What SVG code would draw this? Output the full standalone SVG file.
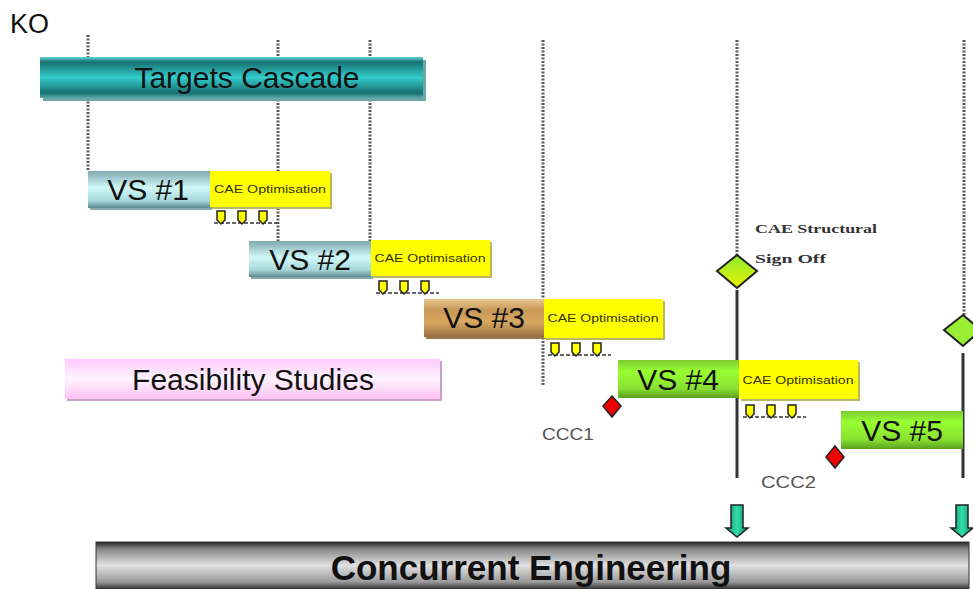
<svg xmlns="http://www.w3.org/2000/svg" width="973" height="589" viewBox="0 0 973 589">
<defs>
<linearGradient id="gTeal" x1="0" y1="0" x2="0" y2="1">
<stop offset="0" stop-color="#5fd8d8"/><stop offset="0.12" stop-color="#187070"/><stop offset="0.5" stop-color="#33cccc"/><stop offset="0.88" stop-color="#187070"/><stop offset="1" stop-color="#5aa8a8"/>
</linearGradient>
<linearGradient id="gCyan" x1="0" y1="0" x2="0" y2="1">
<stop offset="0" stop-color="#7fa8b0"/><stop offset="0.45" stop-color="#d0f8f8"/><stop offset="0.8" stop-color="#a8d8dc"/><stop offset="1" stop-color="#5f8a90"/>
</linearGradient>
<linearGradient id="gTan" x1="0" y1="0" x2="0" y2="1">
<stop offset="0" stop-color="#e8c890"/><stop offset="0.3" stop-color="#c89858"/><stop offset="0.6" stop-color="#d8a860"/><stop offset="1" stop-color="#9a7040"/>
</linearGradient>
<linearGradient id="gGreen" x1="0" y1="0" x2="0" y2="1">
<stop offset="0" stop-color="#7acc33"/><stop offset="0.3" stop-color="#99ff33"/><stop offset="0.75" stop-color="#88e030"/><stop offset="1" stop-color="#5aa022"/>
</linearGradient>
<linearGradient id="gPink" x1="0" y1="0" x2="0" y2="1">
<stop offset="0" stop-color="#ffc8ff"/><stop offset="0.5" stop-color="#fff4ff"/><stop offset="1" stop-color="#ffc0f4"/>
</linearGradient>
<linearGradient id="gGray" x1="0" y1="0" x2="0" y2="1">
<stop offset="0" stop-color="#222"/><stop offset="0.15" stop-color="#888"/><stop offset="0.5" stop-color="#e0e0e0"/><stop offset="0.85" stop-color="#999"/><stop offset="1" stop-color="#333"/>
</linearGradient>
<linearGradient id="gDia" x1="0" y1="0" x2="0" y2="1">
<stop offset="0" stop-color="#88ee33"/><stop offset="1" stop-color="#eeee00"/>
</linearGradient>
<linearGradient id="gDown" x1="0" y1="0" x2="1" y2="0">
<stop offset="0" stop-color="#0a8a6a"/><stop offset="0.5" stop-color="#33ddaa"/><stop offset="1" stop-color="#0a8a6a"/>
</linearGradient>
<g id="smallArrow">
<path d="M-4,0 H4 V9 L0,13 L-4,9 Z" fill="#ffff00" stroke="#222" stroke-width="1.5"/>
</g>
<g id="arrowRow">
<line x1="-7" y1="12" x2="56" y2="12" stroke="#333" stroke-width="1.5" stroke-dasharray="4,2"/>
<use href="#smallArrow" x="0" y="0"/>
<use href="#smallArrow" x="21" y="0"/>
<use href="#smallArrow" x="42" y="0"/>
</g>
</defs>
<style>
.dash{stroke:#5a5a5a;stroke-width:3;stroke-dasharray:2,1.5;fill:none}
.solid{stroke:#333;stroke-width:3;fill:none}
.big{font-family:"Liberation Sans",Arial,sans-serif;font-size:30px;fill:#111;text-anchor:middle}
.cae{font-family:"Liberation Sans",Arial,sans-serif;font-size:11px;fill:#333300;text-anchor:middle}
.lbl{font-family:"Liberation Sans",Arial,sans-serif;font-size:17px;fill:#555}
.serif{font-family:"Liberation Serif","Times New Roman",serif;font-size:13px;font-weight:bold;fill:#333}
.yel{fill:#ffff00}
.sh{fill:#b8b860}
</style>
<rect width="973" height="589" fill="#ffffff"/>

<g id="connectors">
<line class="dash" x1="88" y1="35" x2="88" y2="170"/>
<line class="dash" x1="278" y1="40" x2="278" y2="242"/>
<line class="dash" x1="370" y1="40" x2="370" y2="242"/>
<line class="dash" x1="543" y1="40" x2="543" y2="385"/>
<line class="dash" x1="737" y1="40" x2="737" y2="258"/>
<line class="dash" x1="964" y1="40" x2="964" y2="320"/>
<line class="solid" x1="737" y1="290" x2="737" y2="478"/>
<line class="solid" x1="963" y1="353" x2="963" y2="478"/>
</g>

<text x="10" y="33" font-family="'Liberation Sans',Arial,sans-serif" font-size="27px" fill="#111">KO</text>

<g id="targets">
<rect x="43" y="60" width="383" height="41" fill="#6aa8a8"/>
<rect x="40" y="57" width="383" height="41" fill="url(#gTeal)"/>
<text class="big" x="247" y="88">Targets Cascade</text>
</g>

<g id="vs1">
<rect x="90" y="173" width="122" height="37" fill="#8aa"/>
<rect x="88" y="171" width="122" height="37" fill="url(#gCyan)"/>
<text class="big" x="148" y="200">VS #1</text>
<rect class="sh" x="212" y="173" width="120" height="36"/>
<rect class="yel" x="210" y="171" width="120" height="36"/>
<text class="cae" x="270" y="193" textLength="112" lengthAdjust="spacingAndGlyphs">CAE Optimisation</text>
<use href="#arrowRow" x="221" y="211"/>
</g>

<g id="vs2">
<rect x="251" y="243" width="122" height="36" fill="#8aa"/>
<rect x="249" y="241" width="122" height="36" fill="url(#gCyan)"/>
<text class="big" x="310" y="270">VS #2</text>
<rect class="sh" x="373" y="242" width="119" height="36"/>
<rect class="yel" x="371" y="240" width="119" height="36"/>
<text class="cae" x="430" y="262" textLength="111" lengthAdjust="spacingAndGlyphs">CAE Optimisation</text>
<use href="#arrowRow" x="383" y="281"/>
</g>

<g id="vs3">
<rect x="426" y="301" width="120" height="38" fill="#9a7a4a"/>
<rect x="424" y="299" width="120" height="38" fill="url(#gTan)"/>
<text class="big" x="484" y="328">VS #3</text>
<rect class="sh" x="546" y="301" width="119" height="39"/>
<rect class="yel" x="544" y="299" width="119" height="39"/>
<text class="cae" x="603" y="322" textLength="111" lengthAdjust="spacingAndGlyphs">CAE Optimisation</text>
<use href="#arrowRow" x="555" y="343"/>
</g>

<g id="feasibility">
<rect x="67" y="361" width="375" height="40" fill="#c8a0c0"/>
<rect x="65" y="359" width="375" height="40" fill="url(#gPink)"/>
<text class="big" x="253" y="390">Feasibility Studies</text>
</g>

<g id="vs4">
<rect x="618" y="360" width="121" height="38" fill="url(#gGreen)"/>
<text class="big" x="678" y="390">VS #4</text>
<rect class="sh" x="741" y="362" width="119" height="39"/>
<rect class="yel" x="739" y="360" width="119" height="39"/>
<text class="cae" x="798" y="384" textLength="111" lengthAdjust="spacingAndGlyphs">CAE Optimisation</text>
<use href="#arrowRow" x="750" y="405"/>
</g>

<g id="vs5">
<rect x="841" y="411" width="122" height="38" fill="url(#gGreen)"/>
<text class="big" x="902" y="441">VS #5</text>
</g>

<g id="ccc1">
<path d="M612,396 L621,406 L612,417 L603,406 Z" fill="#ee0000" stroke="#222" stroke-width="1.5"/>
<text class="lbl" x="542" y="440" textLength="52" lengthAdjust="spacingAndGlyphs">CCC1</text>
</g>

<g id="ccc2">
<path d="M835,446 L844,457 L835,468 L826,457 Z" fill="#ee0000" stroke="#222" stroke-width="1.5"/>
<text class="lbl" x="761" y="488" textLength="55" lengthAdjust="spacingAndGlyphs">CCC2</text>
</g>

<g id="signoff">
<path d="M737,255 L757,271 L737,288 L717,271 Z" fill="url(#gDia)" stroke="#222" stroke-width="2"/>
<text class="serif" x="755" y="233" textLength="122" lengthAdjust="spacingAndGlyphs">CAE Structural</text>
<text class="serif" x="755" y="263" textLength="71" lengthAdjust="spacingAndGlyphs">Sign Off</text>
</g>

<g id="milestone5">
<path d="M963,315 L981,330 L963,346 L944,330 Z" fill="#99ee33" stroke="#222" stroke-width="2"/>
</g>

<g id="down1">
<path d="M731,505 H743 V528 H748 L737,537 L726,528 H731 Z" fill="url(#gDown)" stroke="#222" stroke-width="1.5"/>
</g>
<g id="down2">
<path d="M956,505 H968 V528 H973 L962,537 L951,528 H956 Z" fill="url(#gDown)" stroke="#222" stroke-width="1.5"/>
</g>

<g id="concurrent">
<rect x="96" y="542" width="873" height="47" fill="url(#gGray)" stroke="#333" stroke-width="1"/>
<text x="531" y="580" font-family="'Liberation Sans',Arial,sans-serif" font-size="35px" font-weight="bold" fill="#111" text-anchor="middle">Concurrent Engineering</text>
</g>
</svg>
